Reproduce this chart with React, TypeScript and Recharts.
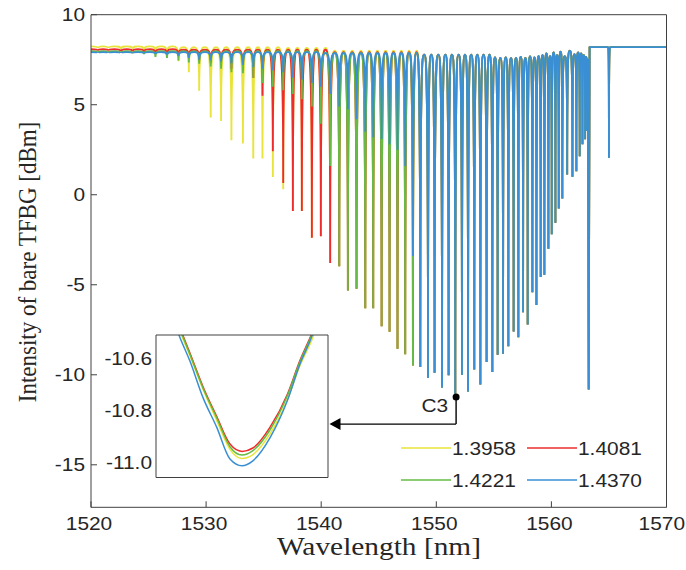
import { LineChart, Line, XAxis, YAxis, ReferenceLine, ReferenceDot } from "recharts";

// the source figure is a bit wider than tall, so horizontal text is stretched to match
const STRETCH = 1.13;
const SANS = "'Liberation Sans', Arial, sans-serif";
const SERIF = "'Liberation Serif', 'Times New Roman', serif";
const INK = "#262626";
const AXIS = "#404040";

// cladding-mode dips shared by the four spectra [nm] (last ones: core mode, shoulders, Bragg)
const dipNm = [
  1520.6, 1521.5, 1522.6, 1523.6, 1524.6, 1525.6, 1526.6, 1527.6, 1528.5, 1529.4,
  1530.4, 1531.3, 1532.2, 1533.2, 1534.1, 1534.9, 1535.8, 1536.7, 1537.54, 1538.32,
  1539.19, 1539.97, 1540.78, 1541.57, 1542.32, 1543.07, 1543.83, 1544.52, 1545.25, 1545.94,
  1546.63, 1547.3, 1547.97, 1548.61, 1549.28, 1549.85, 1550.5, 1551.07, 1551.65, 1552.23,
  1552.76, 1553.3, 1553.83, 1554.37, 1554.87, 1555.33, 1555.8, 1556.26, 1556.72, 1557.13,
  1557.54, 1557.94, 1558.35, 1558.7, 1559.07, 1559.39, 1559.74, 1560.03, 1560.35, 1560.64,
  1560.95, 1561.37, 1561.83, 1562.17, 1562.46, 1562.7, 1562.93, 1563.1, 1563.24, 1563.4,
  1564.85, 1565.0, 1565.2,
];

// dip depth [dBm], first 33 dips per series
const yellowDipDbm = [
  8.15, 8.15, 8.1, 8.1, 8.0, 7.95, 7.8, 7.42, 6.81, 5.78,
  4.29, 4.1, 3.02, 2.85, 2.01, 2.01, 0.99, 0.31, -0.9, -0.9,
  -2.39, -2.3, -3.79, -3.97, -5.32, -5.22, -6.31, -6.31, -7.31, -7.61,
  -8.55, -8.86, -9.48,
];
const redDipDbm = [
  8.0, 8.0, 7.95, 7.95, 7.9, 7.85, 7.8, 7.7, 7.6, 7.45,
  7.3, 7.2, 7.0, 6.9, 6.5, 5.5, 2.42, 0.65, -0.9, -0.9,
  -2.39, -2.3, -3.79, -3.97, -5.32, -5.22, -6.31, -6.31, -7.31, -7.61,
  -8.55, -8.86, -9.48,
];
const greenDipDbm = [
  7.9, 7.9, 7.88, 7.85, 7.8, 7.65, 7.6, 7.46, 7.35, 7.27,
  7.12, 7.0, 6.8, 6.75, 6.5, 6.2, 6.0, 5.8, 5.6, 5.3,
  4.9, 3.95, 1.6, -3.97, -5.32, -5.22, -6.31, -6.31, -7.31, -7.61,
  -8.55, -8.86, -9.48,
];
const blueDipDbm = [
  7.88, 7.88, 7.87, 7.86, 7.85, 7.82, 7.78, 7.72, 7.6, 7.5,
  7.45, 7.4, 7.3, 7.2, 7.1, 7.0, 6.9, 6.8, 6.5, 6.4,
  6.2, 6.0, 5.6, 4.9, 4.75, 4.2, 3.5, 3.2, 3.1, 2.8,
  2.5, 1.6, -3.4,
];
// remaining 40 dips, identical for all four
const sharedDipDbm = [
  -9.57, -10.17, -9.89, -10.7, -10.03, -11.05, -10.0, -10.93, -9.7, -10.54,
  -9.29, -9.85, -8.89, -8.83, -8.42, -7.59, -7.92, -6.52, -7.21, -5.41,
  -6.13, -4.57, -4.44, -3.0, -2.19, -1.55, -0.77, -0.21, 1.12, 1.0,
  1.3, 2.14, 2.8, 3.08, 3.54, -10.82, 8.2, 8.2, 2.05, 8.2,
];

// level of the arches between dips [dBm], first 34 per series
const yellowRidgeDbm = [
  8.24, 8.24, 8.24, 8.24, 8.24, 8.24, 8.24, 8.24, 8.2, 8.2,
  8.2, 8.2, 8.2, 8.2, 8.2, 8.2, 8.2, 8.2, 8.15, 8.15,
  8.15, 8.15, 8.15, 8.0, 8.0, 8.0, 8.0, 8.0, 8.0, 8.0,
  8.0, 8.0, 8.0, 8.0,
];
const redRidgeDbm = [
  8.08, 8.08, 8.08, 8.08, 8.08, 8.08, 8.08, 8.08, 8.05, 8.05,
  8.05, 8.05, 8.05, 8.05, 8.05, 8.05, 8.05, 8.05, 8.05, 8.05,
  8.05, 8.05, 8.05, 7.92, 7.92, 7.92, 7.92, 7.92, 7.92, 7.92,
  7.92, 7.92, 7.92, 7.92,
];
const greenRidgeDbm = [
  7.97, 7.97, 7.97, 7.97, 7.97, 7.97, 7.97, 7.97, 7.97, 7.97,
  7.97, 7.97, 7.97, 7.97, 7.97, 7.97, 7.97, 7.97, 7.97, 7.97,
  7.97, 7.97, 7.88, 7.88, 7.88, 7.88, 7.88, 7.88, 7.88, 7.88,
  7.88, 7.88, 7.88, 7.88,
];
const blueRidgeDbm = [
  7.92, 7.92, 7.92, 7.92, 7.92, 7.92, 7.92, 7.92, 7.92, 7.92,
  7.92, 7.92, 7.92, 7.92, 7.92, 7.92, 7.92, 7.92, 7.92, 7.92,
  7.92, 7.92, 7.86, 7.86, 7.86, 7.86, 7.86, 7.86, 7.86, 7.86,
  7.86, 7.86, 7.86, 7.86,
];
const sharedRidgeDbm = [
  7.78, 7.78, 7.78, 7.78, 7.78, 7.78, 7.78, 7.78, 7.78, 7.78,
  7.78, 7.62, 7.6, 7.62, 7.58, 7.6, 7.65, 7.6, 7.68, 7.62,
  7.7, 7.75, 7.85, 7.7, 7.9, 7.75, 7.95, 7.7, 8.0, 7.8,
  7.9, 7.85, 7.75, 7.65, 7.5, 8.2, 8.2, 8.2, 8.2, 8.2,
];

const seriesNames = ["1.3958", "1.4081", "1.4221", "1.4370"];
const seriesColors = ["#E8E43A", "#EE2C2C", "#66BB44", "#3A8FD4"];

const xTicks = [1520, 1530, 1540, 1550, 1560, 1570];
const yTicks = [-15, -10, -5, 0, 5, 10];

// inset: close-up of the C3 dip
const insetNm = [
  1551.533, 1551.54, 1551.559, 1551.582, 1551.606, 1551.629, 1551.65,
  1551.669, 1551.699, 1551.729, 1551.751, 1551.772, 1551.779,
];
const insetYellow = [-10.45, -10.49, -10.59, -10.72, -10.84, -10.95, -10.985, -10.97, -10.89, -10.76, -10.63, -10.53, -10.49];
const insetRed = [-10.435, -10.475, -10.58, -10.71, -10.825, -10.93, -10.958, -10.945, -10.865, -10.74, -10.61, -10.505, -10.465];
const insetGreen = [-10.44, -10.48, -10.585, -10.715, -10.83, -10.94, -10.972, -10.955, -10.875, -10.745, -10.615, -10.51, -10.47];
const insetBlue = [-10.47, -10.512, -10.611, -10.752, -10.866, -10.987, -11.013, -10.994, -10.905, -10.764, -10.624, -10.516, -10.47];
const insetTicks = [-11.0, -10.8, -10.6];

// C3 marker and arrow to the inset
const c3Nm = 1551.72;
const c3Dbm = -11.24;
const arrowDbm = -12.74;
const arrowTipNm = 1540.72;

function spectrum(dips: number[], ridges: number[]) {
  const pts = [{ nm: 1520, v: ridges[0] }];
  dipNm.forEach((nm, i) => {
    if (i > 0) pts.push({ nm: (dipNm[i - 1] + nm) / 2, v: ridges[i] });
    pts.push({ nm, v: dips[i] });
  });
  pts.push({ nm: 1570, v: ridges[dipNm.length] });
  return pts;
}

const spectra = [
  spectrum([...yellowDipDbm, ...sharedDipDbm], [...yellowRidgeDbm, ...sharedRidgeDbm]),
  spectrum([...redDipDbm, ...sharedDipDbm], [...redRidgeDbm, ...sharedRidgeDbm]),
  spectrum([...greenDipDbm, ...sharedDipDbm], [...greenRidgeDbm, ...sharedRidgeDbm]),
  spectrum([...blueDipDbm, ...sharedDipDbm], [...blueRidgeDbm, ...sharedRidgeDbm]),
];

const insetSeries = [insetYellow, insetRed, insetGreen, insetBlue].map((vals) =>
  insetNm.map((nm, i) => ({ nm, v: vals[i] }))
);

// d3-style curve: rounded arch at each ridge, sharp narrow notch at each dip
function notchCurve(context: any) {
  let x0 = 0;
  let y0 = 0;
  let started = false;
  return {
    areaStart() {},
    areaEnd() {},
    lineStart() {
      started = false;
    },
    lineEnd() {},
    point(x: number, y: number) {
      if (!started) {
        context.moveTo(x, y);
        started = true;
      } else if (y > y0) {
        const dx = x - x0;
        context.bezierCurveTo(x0 + 0.55 * dx, y0, x, y0, x, y);
      } else if (y < y0) {
        const dx = x - x0;
        context.bezierCurveTo(x0, y, x - 0.55 * dx, y, x, y);
      } else {
        context.lineTo(x, y);
      }
      x0 = x;
      y0 = y;
    },
  };
}

function Txt({ x, y, anchor = "start", size = 18.5, family = SANS, dy, children }: any) {
  return (
    <text
      transform={`translate(${x},${y}) scale(${STRETCH},1)`}
      textAnchor={anchor}
      dy={dy}
      fontSize={size}
      fontFamily={family}
      fill={INK}
    >
      {children}
    </text>
  );
}

const XTick = ({ x, y, payload }: any) =>
  payload.value === 1570 ? (
    <Txt x={685} y={y} anchor="end" dy="0.71em">{payload.value}</Txt>
  ) : (
    <Txt x={x - 2} y={y} anchor="middle" dy="0.71em">{payload.value}</Txt>
  );
const YTick = ({ x, y, payload }: any) => (
  <Txt x={x} y={y} anchor="end" dy="0.355em">{payload.value}</Txt>
);
const InsetTick = ({ x, y, payload }: any) => (
  <Txt x={x} y={y} anchor="end" dy="0.355em">{Number(payload.value).toFixed(1)}</Txt>
);

const ArrowHead = ({ cx, cy }: any) => (
  <polygon points={`${cx},${cy} ${cx + 11},${cy - 6} ${cx + 11},${cy + 6}`} fill="#000" />
);
const C3Marker = ({ cx, cy }: any) => (
  <g>
    <circle cx={cx} cy={cy} r={3.5} fill="#000" />
    <Txt x={cx - 8} y={cy + 15} anchor="end">C3</Txt>
  </g>
);

const MAIN_Y: [number, number] = [-17.36, 10];
const INSET_Y: [number, number] = [-11.058, -10.512];
const INSET_X: [number, number] = [1551.5, 1551.8];

export default function App() {
  return (
    <div style={{ position: "fixed", left: 0, top: 0, width: 686, height: 570, background: "#fff" }}>
      <LineChart width={686} height={570} margin={{ top: 13.7, right: 18.5, bottom: 22.7, left: 0 }}>
        <XAxis
          dataKey="nm"
          type="number"
          domain={[1520, 1570]}
          ticks={xTicks}
          allowDataOverflow
          height={40}
          tickSize={-6}
          tickMargin={15.4}
          tick={<XTick />}
          axisLine={{ stroke: AXIS }}
          tickLine={{ stroke: AXIS }}
        />
        <XAxis
          xAxisId="top"
          orientation="top"
          type="number"
          domain={[1520, 1570]}
          ticks={xTicks}
          allowDataOverflow
          height={1}
          tickSize={-6}
          tick={false}
          axisLine={{ stroke: AXIS }}
          tickLine={{ stroke: AXIS }}
        />
        <YAxis
          type="number"
          domain={MAIN_Y}
          ticks={yTicks}
          allowDataOverflow
          width={91}
          tickSize={-6}
          tickMargin={12}
          tick={<YTick />}
          axisLine={{ stroke: AXIS }}
          tickLine={{ stroke: AXIS }}
        />
        <YAxis
          yAxisId="right"
          orientation="right"
          type="number"
          domain={MAIN_Y}
          ticks={yTicks}
          allowDataOverflow
          width={1}
          tickSize={-6}
          tick={false}
          axisLine={{ stroke: AXIS }}
          tickLine={{ stroke: AXIS }}
        />
        {spectra.map((d, i) => (
          <Line
            key={seriesNames[i]}
            name={seriesNames[i]}
            data={d}
            dataKey="v"
            type={notchCurve as any}
            stroke={seriesColors[i]}
            strokeWidth={1.9}
            dot={false}
            activeDot={false}
            isAnimationActive={false}
          />
        ))}
        <ReferenceLine
          segment={[{ x: c3Nm, y: c3Dbm }, { x: c3Nm, y: arrowDbm }]}
          stroke="#000"
          strokeWidth={1.4}
        />
        <ReferenceLine
          segment={[{ x: c3Nm, y: arrowDbm }, { x: arrowTipNm + 0.9, y: arrowDbm }]}
          stroke="#000"
          strokeWidth={1.4}
        />
        <ReferenceDot x={arrowTipNm} y={arrowDbm} r={4} shape={ArrowHead} />
        <ReferenceDot x={c3Nm} y={c3Dbm} r={3.5} shape={C3Marker} />
      </LineChart>

      <div style={{ position: "absolute", left: 96, top: 333.5 }}>
        <LineChart width={233} height={144.5} margin={{ top: 0, right: 0, bottom: 0, left: 0 }}>
          <XAxis
            dataKey="nm"
            type="number"
            domain={INSET_X}
            allowDataOverflow
            height={1}
            tick={false}
            tickLine={false}
            axisLine={{ stroke: AXIS }}
          />
          <XAxis
            xAxisId="top"
            orientation="top"
            type="number"
            domain={INSET_X}
            height={1}
            tick={false}
            tickLine={false}
            axisLine={{ stroke: AXIS }}
          />
          <YAxis
            type="number"
            domain={INSET_Y}
            ticks={insetTicks}
            allowDataOverflow
            width={60}
            tickSize={0}
            tickMargin={4}
            tickLine={false}
            tick={<InsetTick />}
            axisLine={{ stroke: AXIS }}
          />
          <YAxis
            yAxisId="right"
            orientation="right"
            type="number"
            domain={INSET_Y}
            width={1}
            tick={false}
            tickLine={false}
            axisLine={{ stroke: AXIS }}
          />
          {insetSeries.map((d, i) => (
            <Line
              key={seriesNames[i]}
              data={d}
              dataKey="v"
              type="monotone"
              stroke={seriesColors[i]}
              strokeWidth={1.5}
              dot={false}
              activeDot={false}
              isAnimationActive={false}
            />
          ))}
        </LineChart>
      </div>

      <svg width={686} height={570} style={{ position: "absolute", left: 0, top: 0, pointerEvents: "none" }}>
        <text
          transform={`translate(27,262) scale(${STRETCH},1) rotate(-90)`}
          textAnchor="middle"
          dy="0.35em"
          fontSize={23}
          fontFamily={SERIF}
          fill={INK}
        >
          Intensity of bare TFBG [dBm]
        </text>
        <Txt x={379} y={555} anchor="middle" size={26} family={SERIF}>
          Wavelength [nm]
        </Txt>
        {seriesNames.map((name, i) => {
          const lx = i % 2 === 0 ? 401 : 527;
          const ly = i < 2 ? 448 : 480;
          return (
            <g key={name}>
              <line x1={lx} x2={lx + 50} y1={ly} y2={ly} stroke={seriesColors[i]} strokeWidth={1.5} />
              <Txt x={lx + 51} y={ly} dy="0.36em">{name}</Txt>
            </g>
          );
        })}
      </svg>
    </div>
  );
}
